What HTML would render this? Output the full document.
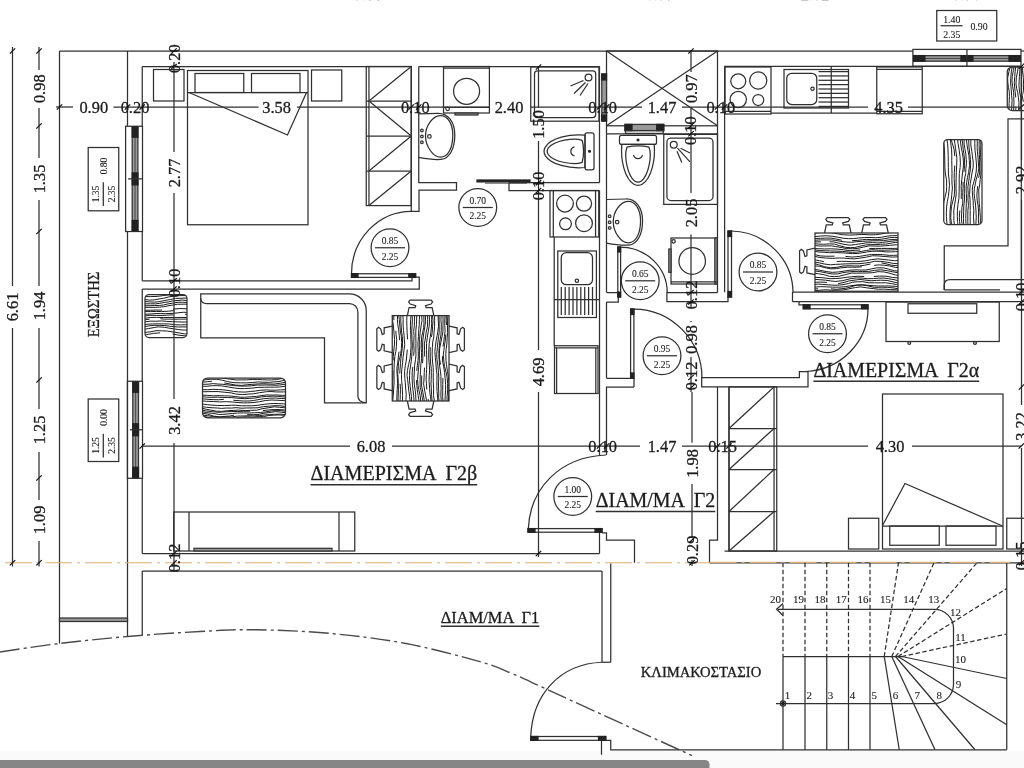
<!DOCTYPE html>
<html lang="el"><head><meta charset="utf-8"><title>Κάτοψη Γ ορόφου</title>
<style>
html,body{margin:0;padding:0;background:#fff;}
body{width:1024px;height:768px;overflow:hidden;font-family:"Liberation Serif","DejaVu Serif",serif;}
svg{display:block;will-change:transform;}
svg line,svg path,svg rect,svg circle,svg polyline{fill:none;stroke:#303030;stroke-width:1.25;}
svg text{font-family:"Liberation Serif","DejaVu Serif",serif;fill:#1c1c1c;stroke:#1c1c1c;stroke-width:.3;}
svg text.sm{stroke-width:.1;}
svg .tk{stroke-width:1.2;stroke:#111;}
svg .dk{fill:#222;stroke:#222;}
svg .gr{fill:#9a9a9a;stroke:#333;}
svg .thin{stroke-width:.8;}
svg .wd{stroke-width:1.0;stroke:#1a1a1a;}
svg .wh{fill:#fff;}
svg .da{stroke-dasharray:4.5 2.5;}
svg .dd{stroke:#4a4a4a;stroke-dasharray:20 4 3 4;stroke-width:1.4;}
svg .or{stroke:#dcae70;stroke-dasharray:27 5 3 5;stroke-width:1.1;}
svg .bar{fill:#868686;stroke:none;}
svg .nf{fill:#fafafa;stroke:none;}
</style></head><body>
<svg width="1024" height="768" viewBox="0 0 1024 768">
<rect x="0" y="751" width="1024" height="17" class="nf"/>
<path d="M0 760 H705 a4.5 4.5 0 0 1 4.5 4.5 V768 H0 Z" class="bar"/>
<line x1="59.5" y1="51" x2="913" y2="51"/>
<line x1="59.5" y1="51" x2="59.5" y2="643.5"/>
<line x1="127.5" y1="51" x2="127.5" y2="126.25"/>
<line x1="127.5" y1="231.5" x2="127.5" y2="636.5"/>
<line x1="142.25" y1="66.5" x2="142.25" y2="126.25"/>
<line x1="142.25" y1="231.5" x2="142.25" y2="280.75"/>
<line x1="142.25" y1="289" x2="142.25" y2="381.25"/>
<line x1="142.25" y1="478.5" x2="142.25" y2="553.5"/>
<line x1="142.25" y1="571" x2="142.25" y2="635"/>
<rect x="59.5" y="618" width="68" height="3.5" class="gr"/>
<line x1="142.25" y1="66.5" x2="411.25" y2="66.5"/>
<line x1="418.75" y1="66.5" x2="599.5" y2="66.5"/>
<line x1="724.5" y1="66.25" x2="1021" y2="66.25"/>
<path d="M411.25 66.5 L411.25 211.25 L419 211.25 L419 190 L456.5 190 L456.5 182.5 L418.75 182.5 L418.75 66.5"/>
<path d="M142.25 280.75 L412 280.75 L412 277 L419.25 277 L419.25 289 L142.25 289"/>
<path d="M530 182.7 L599.5 182.7"/>
<path d="M509 182.7 L509 190.5 L599.5 190.5"/>
<line x1="509" y1="182.7" x2="530" y2="182.7"/>
<line x1="599.5" y1="66.5" x2="599.5" y2="182.7"/>
<rect x="477" y="180" width="53" height="1.9" class="dk"/>
<line x1="485" y1="183.2" x2="527" y2="183.2" class="thin"/>
<rect x="606.5" y="51" width="111" height="74.8"/>
<line x1="606.5" y1="51" x2="717.5" y2="125.8"/>
<line x1="717.5" y1="51" x2="606.5" y2="125.8"/>
<line x1="724.6" y1="66.25" x2="724.6" y2="292.3"/>
<line x1="717.5" y1="125.8" x2="717.5" y2="292.5"/>
<line x1="606.5" y1="125.8" x2="606.5" y2="292.5"/>
<line x1="599.5" y1="190.5" x2="599.5" y2="455"/>
<line x1="606.5" y1="133.75" x2="717.5" y2="133.75"/>
<path d="M606.5 292.5 L618.3 292.5 L618.3 302 L606.5 302"/>
<path d="M717.5 292.65 L666.9 292.65 L666.9 301.5 L728 301.5 L728 297"/>
<line x1="606.5" y1="302" x2="606.5" y2="378.25"/>
<path d="M606.5 378.25 L634 378.25 L634 387"/>
<path d="M606.5 455 L606.5 387 L634 387"/>
<path d="M717.5 386.9 L717.5 540 L709.5 540 L709.5 562.75"/>
<path d="M701.7 377.5 L799.4 377.5 L799.4 371.5 L808 371.5 L808 386.9 L701.7 386.9 Z"/>
<path d="M799 301.7 L1024 301.7"/>
<path d="M793 292 L1024 292"/>
<path d="M792.5 301.7 L799 301.7 L799 304.8 L803.3 304.8"/>
<line x1="792.5" y1="292" x2="792.5" y2="301.7"/>
<line x1="1021.3" y1="66.25" x2="1021.3" y2="292"/>
<line x1="724.5" y1="551" x2="1024" y2="551"/>
<line x1="709.5" y1="562.75" x2="1024" y2="562.75"/>
<line x1="729" y1="387" x2="729" y2="551"/>
<line x1="142.25" y1="553.5" x2="599.5" y2="553.5"/>
<line x1="599.5" y1="532.5" x2="599.5" y2="553.5"/>
<line x1="142.25" y1="571" x2="602" y2="571"/>
<path d="M602 532.75 L606.5 532.75 L606.5 540 L634.5 540 L634.5 562.75"/>
<line x1="602" y1="571" x2="602" y2="662.25"/>
<line x1="610.75" y1="563.5" x2="610.75" y2="662.25"/>
<line x1="602" y1="662.25" x2="610.75" y2="662.25"/>
<path d="M605.75 740.25 L610.75 740.25 L610.75 749.75 L1006.75 749.75"/>
<line x1="601.5" y1="740" x2="601.5" y2="754.75"/>
<line x1="1006.75" y1="562.75" x2="1006.75" y2="749.75"/>
<line x1="5" y1="562.75" x2="709.5" y2="562.75" class="or"/>
<line x1="709.5" y1="562.4" x2="1010" y2="562.4" class="or"/>
<path d="M0 652 C14.9 649.7 38.2 646.1 59.5 643.5 C80.8 640.9 104.1 638.5 127.5 636.5 C150.9 634.5 178.6 632.6 200 631.5 C221.4 630.4 234.2 629.4 256 629.75 C277.8 630.1 306.0 631.2 331 633.5 C356.0 635.8 381.0 638.8 406 643.5 C431.0 648.2 463.3 657.0 481 662 C498.7 667.0 501.3 669.1 512 673.5 C522.7 677.9 530.3 681.8 545 688.5 C559.7 695.2 575.5 702.4 600 713.6 C624.5 724.8 667.0 744.2 692 755.6" class="dd"/>
<rect x="153.5" y="69.5" width="30.5" height="31.5"/>
<rect x="311.5" y="70" width="30.25" height="31"/>
<rect x="187.5" y="70.5" width="120.5" height="154.25"/>
<line x1="187.5" y1="92.5" x2="308" y2="92.5"/>
<rect x="195" y="73.5" width="48.75" height="19"/>
<rect x="251.5" y="73.5" width="48.5" height="19"/>
<path d="M189 92.5 L287.5 135 L306.5 92.5"/>
<rect x="366.25" y="66.5" width="45" height="139.1"/>
<line x1="368.95" y1="66.5" x2="368.95" y2="205.6"/>
<line x1="411.25" y1="66.5" x2="368.95" y2="101"/>
<line x1="366.25" y1="101" x2="411.25" y2="101"/>
<line x1="368.95" y1="101" x2="411.25" y2="136"/>
<line x1="366.25" y1="136" x2="411.25" y2="136"/>
<line x1="411.25" y1="136" x2="368.95" y2="171"/>
<line x1="366.25" y1="171" x2="411.25" y2="171"/>
<line x1="411.25" y1="171" x2="368.95" y2="205.6"/>
<rect x="125.6" y="126.25" width="16.9" height="105.25"/>
<rect x="132.2" y="127.05" width="5.7" height="103.65" class="gr"/>
<line x1="135.05" y1="127.25" x2="135.05" y2="230.5" class="thin"/>
<rect x="132.2" y="127.05" width="5.7" height="10.2" class="dk"/>
<rect x="132.2" y="172.88" width="5.7" height="12" class="dk"/>
<rect x="132.2" y="220.5" width="5.7" height="10.2" class="dk"/>
<line x1="128.1" y1="178.88" x2="142.5" y2="178.88"/>
<rect x="127.4" y="381.25" width="15.1" height="97.05"/>
<rect x="132.8" y="382.05" width="5.7" height="95.45" class="gr"/>
<line x1="135.65" y1="382.25" x2="135.65" y2="477.3" class="thin"/>
<rect x="132.8" y="382.05" width="5.7" height="10.2" class="dk"/>
<rect x="132.8" y="423.77" width="5.7" height="12" class="dk"/>
<rect x="132.8" y="467.3" width="5.7" height="10.2" class="dk"/>
<line x1="129.9" y1="429.77" x2="142.5" y2="429.77"/>
<path d="M411.25 211.25 A60 62.5 0 0 0 351.5 273.75"/>
<rect x="351.5" y="273.75" width="64.1" height="3.65"/>
<rect x="351.5" y="273.75" width="6.5" height="3.65" class="dk"/>
<rect x="408.8" y="273.75" width="6.8" height="3.65" class="dk"/>
<circle cx="390" cy="247.75" r="18.9"/>
<line x1="375" y1="247.75" x2="405" y2="247.75"/>
<text x="390" y="243.75" font-size="9.5" text-anchor="middle" class="sm">0.85</text>
<text x="390" y="259.65" font-size="9.5" text-anchor="middle" class="sm">2.25</text>
<circle cx="477.75" cy="207.5" r="18.9"/>
<line x1="462.75" y1="207.5" x2="492.75" y2="207.5"/>
<text x="477.75" y="203.5" font-size="9.5" text-anchor="middle" class="sm">0.70</text>
<text x="477.75" y="219.4" font-size="9.5" text-anchor="middle" class="sm">2.25</text>
<clipPath id="w1"><rect x="145" y="294.5" width="42" height="43" rx="4"/></clipPath>
<g clip-path="url(#w1)">
<path d="M144 296.61 L150.73 296.6 L154.99 296.5 L159.71 296.08 L163.89 295.52 L170.73 294.64 L176.48 293.88 L182.23 293.81 L186.9 294.26 L191.3 294.49" class="wd"/>
<path d="M144 299.53 L149.74 300.09 L154.86 299.8 L159.05 298.96 L163.67 298.29 L168.95 296.87 L174.71 295.86 L179.61 295.61 L185.7 295.55 L191.43 296.41" class="wd"/>
<path d="M144 301.53 L149.54 301.86 L154.56 302.13 L159.83 301.58 L164.06 300.63 L170.43 299.47 L175.45 298.42 L180.94 298.25 L185.14 298.02 L189.95 298.83" class="wd"/>
<path d="M144 303.89 L150.47 303.8 L155.62 303.87 L159.69 303.36 L164.19 302.47 L168.37 301.97 L172.76 300.87 L177.93 300.47 L182.17 300.06 L187.82 300.6" class="wd"/>
<path d="M144 305.79 L150.05 305.69 L154.74 305.51 L159.19 305.49 L163.23 305.05 L167.78 303.96 L172.21 303.23 L178.04 302.25 L182.42 302.27 L189.27 302.61" class="wd"/>
<path d="M144 307.4 L149.2 307.36 L155.1 307.34 L159.3 307.18 L163.79 306.73 L167.95 305.87 L172.4 305.1 L177.49 304.25 L184.11 304.16 L188.56 304.28" class="wd"/>
<path d="M144 310.28 L150.93 310.22 L155.87 310.04 L162.12 310.17" class="wd"/>
<path d="M173.1 309.06 L179.96 308.59 L186.03 308.76 L192.3 308.86" class="wd"/>
<path d="M144 311.56 L150.32 311.58 L156.65 311.45 L161.32 311.6 L168.28 311.2 L174.7 310.55" class="wd"/>
<path d="M186.47 309.72 L190.55 309.8" class="wd"/>
<path d="M144 314.32 L150.96 313.97 L156.06 313.56 L160.74 313.54 L165.35 313.66 L172.05 313.38 L177.49 312.85 L183.89 312.21 L189.87 312.75" class="wd"/>
<path d="M144 316.08 L149.91 315.29 L156.75 315.43 L162.14 315.49 L166.39 315.19 L173.37 314.82" class="wd"/>
<path d="M185.11 314.36 L190.9 314.49" class="wd"/>
<path d="M144 318.3 L150.18 317.51 L156.43 317.39 L163.39 317.5 L170.01 317.47 L174.65 317.65 L180.94 317.4 L186.57 317.56 L190.75 317.58" class="wd"/>
<path d="M144 319.99 L149.5 319.13" class="wd"/>
<path d="M160.4 318.69 L164.41 319.13 L168.92 319.12 L175.1 319.22 L180.08 319.11 L185.74 319.12 L190.06 319.05" class="wd"/>
<path d="M144 322.04 L150.68 321.11 L155.66 321.25 L161.48 320.93 L166.31 321.35 L172.73 321.71 L177.47 321.86 L184.1 322.05 L190.87 322.05" class="wd"/>
<path d="M144 324.79 L148.22 324.13 L152.44 323.93 L158.79 323.84 L163.25 323.87 L169.23 323.96 L175.88 324.77 L180.54 324.92 L185.73 324.74 L192.7 324.95" class="wd"/>
<path d="M144 326.87 L149.07 325.83 L154.17 325.35 L159.54 325.36 L164.7 325.51 L169.58 326.2 L173.92 326.63 L178.61 327 L182.86 326.91 L189.58 326.95" class="wd"/>
<path d="M144 329.3 L148.45 328.6 L154.16 327.49 L158.43 326.85 L164.49 327.28 L168.71 328.09 L174.61 328.99 L178.86 329.64 L183.06 330.06 L188.43 330.03" class="wd"/>
<path d="M144 332.57 L150.13 331.84 L157.04 330.58 L161.58 330.8 L167.47 331.07 L172.08 331.75 L178.1 332.72 L184.51 333.9 L188.62 333.65" class="wd"/>
<path d="M144 335.12 L148.32 334.35 L153.62 333.38 L160.12 332.82" class="wd"/>
<path d="M172.59 333.93 L179.08 335.23 L184.99 335.85 L190.03 335.96" class="wd"/>
</g>
<rect x="145" y="294.5" width="42" height="43" rx="4"/>
<clipPath id="w2"><rect x="202.5" y="378" width="83" height="39.75" rx="5"/></clipPath>
<g clip-path="url(#w2)">
<path d="M201.5 377.56 L206.23 376.81 L211.6 376.3 L216.94 376.63 L223.83 378.25 L229.47 379.1 L236.37 380.01 L241.44 379.89 L246.58 379.86 L252.09 379.47 L257.6 379.43 L262.4 379.73 L267.59 379.91 L271.66 379.95 L276.36 379.56 L281.95 378.53 L287.92 377.26" class="wd"/>
<path d="M201.5 380.26 L206.35 379.61 L210.79 379.28 L216.93 379.26 L222.22 380.22 L227.74 381.61 L233.99 382.68 L240.43 382.82 L246.49 382.89 L252.63 382.46 L258.56 381.85 L262.68 382.22 L269.56 382.28 L274.91 381.85 L278.97 381.52 L283.7 380.44 L289.07 379.27" class="wd"/>
<path d="M201.5 382.27 L207.71 381.63 L211.93 381.31" class="wd"/>
<path d="M224.34 382.94 L229.82 383.92 L235.26 385.06 L241.56 385.38 L247.49 384.71 L251.93 384.33 L258.16 383.9 L263.86 383.72 L268.05 383.94 L274.06 384.08 L280.09 383.25 L285.64 382.34 L291.04 381.25" class="wd"/>
<path d="M201.5 384.33 L207.96 384.18 L213.31 383.62 L217.94 384.05 L222.57 384.27 L226.99 384.83 L233.85 385.55 L240.31 386.14 L246.97 386.04 L251.67 385.79 L257.13 385 L261.14 385.11 L266.49 385.02 L270.91 385.08 L275.86 385.24 L279.87 384.96 L286.38 384" class="wd"/>
<path d="M201.5 386.28 L206.68 386.3 L212.45 385.67 L217.73 385.65 L221.88 385.92 L228.38 387.03 L235.19 388.13 L239.98 388.67 L244.55 388.57 L251.42 388.2 L257.86 387.4 L264.6 387.25 L270.25 387.16 L274.39 387.18 L279.75 386.97 L285.68 386.15 L289.83 385.97" class="wd"/>
<path d="M201.5 389.62 L207.72 389.72 L212.93 389.32 L218.38 389.52 L222.74 389.79 L226.97 390.27 L233.4 391.34 L238.76 391.91 L245.04 392.09 L250.68 391.49 L255.21 391.03 L260.17 390.32 L266.59 389.85 L270.65 390.17 L275.8 390.17 L280.43 389.88 L286.69 389.61" class="wd"/>
<path d="M201.5 391.79 L208.09 391.67 L212.9 391.55 L218.1 391.59 L224.96 392.28 L231.58 392.95 L235.68 394.02 L242.37 394.58 L248.13 394.11 L253.3 393.82 L259.78 392.66 L266.69 391.66 L271.02 391.55 L276.59 391.94 L283.41 391.94 L289.36 391.58" class="wd"/>
<path d="M201.5 395.1 L207.21 395.34 L213.35 395.84 L219.23 395.58 L224.54 395.83 L228.84 395.9 L235.67 396.54 L240.46 397.24 L244.46 397.24 L251.45 396.74 L256.4 396.42 L261.13 395.65 L266.77 394.91 L272 395.1 L276.17 394.96 L282.82 395.38 L287.07 395.19" class="wd"/>
<path d="M201.5 396.63 L206.76 397.16 L211.36 397.35 L217.57 397.18 L222.19 397.42 L227.12 397.54 L231.82 397.61 L238.1 398.26 L244.95 398.7 L249.52 398.39 L254.77 398.05 L261.61 396.85 L266.79 396.37 L273.72 396.19 L277.87 396.28 L283.05 396.91 L289.7 396.9" class="wd"/>
<path d="M201.5 398.76 L207.07 399.23 L212.01 399.61 L218.53 399.75 L223.85 399.3" class="wd"/>
<path d="M233.35 400.24 L239.03 400.73 L244.17 401.04 L249.1 400.97 L253.36 400.49 L257.95 399.7 L263.29 398.74 L269.5 398.19 L275.4 398.05 L281.27 398.46 L286.4 398.78" class="wd"/>
<path d="M201.5 400.86 L206.59 401.29 L213.45 401.56 L219.69 401.9 L226.46 401.66 L232.63 402.04 L239.04 402.67 L243.24 402.85 L247.56 402.85 L252.96 402.54 L259.33 401.76 L265.77 400.48 L271.26 400.01 L278.06 400.27 L284.13 400.61 L288.84 401.25" class="wd"/>
<path d="M201.5 403.93 L207.76 404.78 L211.95 405.08 L217.61 405.44 L224.55 405.6 L231.51 405.21 L235.77 405.24 L241.26 405.82 L246.6 405.76 L251.85 405.82 L257.88 405.25 L264.42 404.26 L268.78 403.83 L273.66 403.43 L278.78 403.67 L283.38 403.81 L288.11 404.21" class="wd"/>
<path d="M201.5 406.44 L206.24 407.25 L212.19 407.76 L217.58 408.02 L221.59 408.42 L226.29 408.04 L231.41 408.09 L236.11 407.66 L241.91 408.22 L246.49 407.97 L252.03 407.95 L257.84 407.76 L263.83 406.56 L269.74 406.21 L274.79 405.63 L279.81 405.81 L286.81 406.51" class="wd"/>
<path d="M201.5 408.03 L206.62 409.39 L210.85 410.09 L216.34 411.14 L221.56 411.4 L227.55 410.65 L233.15 410.45 L238.35 410.14 L245.31 410.57 L250.57 410.32 L256.8 410.19 L262.04 408.74 L268.34 407.75 L274.28 406.82 L279.49 407.27 L284.8 407.74 L289.14 408.62" class="wd"/>
<path d="M201.5 409.85 L205.93 410.89 L211.12 411.56 L217.9 412.25 L222.41 412.07 L226.9 411.76 L231.1 411.58 L237.36 411.51 L243.78 411.28 L250.29 411.23" class="wd"/>
<path d="M262.85 410.6 L267.11 410.07 L273.17 409.58 L279.09 409.56 L284.96 410 L289.55 410.56" class="wd"/>
<path d="M201.5 411.39 L206.24 412.53 L212.93 413.42 L218.62 414.35 L222.73 414.41 L227.09 414 L232.74 413.48 L237.66 413.02 L243.4 412.92 L249.38 413.02 L254.7 412.72 L260.55 412.44 L265.26 411.91 L271.6 410.89 L276.14 410.63 L280.46 410.62 L285.75 411.29 L291.08 412.44" class="wd"/>
<path d="M201.5 412.82 L207.66 414.18 L213.92 416.16 L219.88 416.87 L223.95 416.45 L229.8 416.05 L234.12 415.1" class="wd"/>
<path d="M247.21 414.68 L253.27 414.69 L257.94 414.48 L263.77 413.35 L268.74 412.59 L275.45 411.64 L280.22 412 L285.66 412.72" class="wd"/>
<path d="M201.5 414.9 L207.41 415.67 L212.39 416.53 L218.77 417.17 L225.07 417.05 L231.65 416.91 L237.01 416.14 L243.07 415.98 L247.83 415.76 L254.4 415.89 L259.51 415.54 L264.62 415 L269.61 414.43 L274.3 414.3 L281.18 414.17 L286.73 414.8" class="wd"/>
<path d="M201.5 416.16 L207.74 417.2 L212.61 418.63 L217.87 419.51 L222.01 419.86 L227.85 419.2 L232.01 418.75 L236.92 417.82 L242.52 417.07 L247.43 416.75 L252.53 417.16 L257 416.74 L263.41 416.6 L268.76 415.5 L273.19 415.18 L278 414.95 L284.9 415.24 L291.37 417.22" class="wd"/>
</g>
<rect x="202.5" y="378" width="83" height="39.75" rx="5"/>
<path d="M200.76 293.9 H349.5 A16.7 16.7 0 0 1 366.25 310.6 V402.8 H324.5 V337.9 H200.76 Z"/>
<path d="M200.76 298.5 Q201 303.55 206.7 303.55 H349.5 A8.4 8.4 0 0 1 357.9 311.95 V396 Q358 402 365.5 402.6"/>
<path d="M-13.25 0 L-11.5 -8.1 L-5.5 -8.1 L-4.9 -10 L-10.5 -11.6 L-12 -13.7 L-10.5 -15.4 L10.5 -15.4 L12 -13.7 L10.5 -11.6 L4.9 -10 L5.5 -8.1 L11.5 -8.1 L13.25 0" transform="translate(392.25 339.3) rotate(-90)"/>
<path d="M-13.25 0 L-11.5 -8.1 L-5.5 -8.1 L-4.9 -10 L-10.5 -11.6 L-12 -13.7 L-10.5 -15.4 L10.5 -15.4 L12 -13.7 L10.5 -11.6 L4.9 -10 L5.5 -8.1 L11.5 -8.1 L13.25 0" transform="translate(449 339.3) rotate(90)"/>
<path d="M-13.25 0 L-11.5 -8.1 L-5.5 -8.1 L-4.9 -10 L-10.5 -11.6 L-12 -13.7 L-10.5 -15.4 L10.5 -15.4 L12 -13.7 L10.5 -11.6 L4.9 -10 L5.5 -8.1 L11.5 -8.1 L13.25 0" transform="translate(392.25 377.4) rotate(-90)"/>
<path d="M-13.25 0 L-11.5 -8.1 L-5.5 -8.1 L-4.9 -10 L-10.5 -11.6 L-12 -13.7 L-10.5 -15.4 L10.5 -15.4 L12 -13.7 L10.5 -11.6 L4.9 -10 L5.5 -8.1 L11.5 -8.1 L13.25 0" transform="translate(449 377.4) rotate(90)"/>
<path d="M-13.25 0 L-11.5 -8.1 L-5.5 -8.1 L-4.9 -10 L-10.5 -11.6 L-12 -13.7 L-10.5 -15.4 L10.5 -15.4 L12 -13.7 L10.5 -11.6 L4.9 -10 L5.5 -8.1 L11.5 -8.1 L13.25 0" transform="translate(420.6 315.6) rotate(0)"/>
<path d="M-13.25 0 L-11.5 -8.1 L-5.5 -8.1 L-4.9 -10 L-10.5 -11.6 L-12 -13.7 L-10.5 -15.4 L10.5 -15.4 L12 -13.7 L10.5 -11.6 L4.9 -10 L5.5 -8.1 L11.5 -8.1 L13.25 0" transform="translate(420.6 401) rotate(180)"/>
<clipPath id="w3"><rect x="392.25" y="315.6" width="56.75" height="85.4" rx="0"/></clipPath>
<g clip-path="url(#w3)">
<path d="M392.26 314.6 L392.46 319.82 L393.2 323.99 L393.6 328.03 L394.12 334.85 L394.56 339.45 L394.45 344.97 L393.68 351.41 L393.26 356.34 L393.23 360.49" class="wd"/>
<path d="M392.96 370.85 L392.81 377.09 L392.7 383.31 L392.29 387.99 L391.94 392.69 L392.01 397.7 L391.99 403.78" class="wd"/>
<path d="M393.69 314.6 L393.88 320.17" class="wd"/>
<path d="M395.85 330.75 L396.1 334.79 L396.67 339.5 L396.43 346.33 L395.88 351.32 L394.83 356.3 L394.26 363.02 L394.04 369.1 L394.01 376.04 L394.12 382.56 L393.67 389.13 L393.25 395.3 L392.8 400.23 L392.82 406.1" class="wd"/>
<path d="M397.64 314.6 L397.42 319.63 L397.68 323.72 L398.64 329.8 L399.32 335.89 L399.48 340.09" class="wd"/>
<path d="M399.03 351.64 L398.48 355.83 L397.74 362.58 L397.06 366.9 L396.87 371.23 L397.36 377.78 L397.51 383.68 L397.21 389.57 L396.98 393.87 L396.8 400.15 L396.88 405.1" class="wd"/>
<path d="M398.8 314.6 L399.28 319.56 L399.8 325.07 L400.32 330.93 L401.31 336.17 L401.69 342.49 L401.36 348.6 L400.74 353.25 L399.83 357.52 L398.56 362.03 L398.32 366.64 L397.7 373.57 L398.17 379.05 L398.32 385.44 L398.43 390.92 L398.12 397.42 L397.93 404.25" class="wd"/>
<path d="M400.88 314.6 L400.77 320.9 L401.31 327.87 L401.64 332.19 L402.35 336.47 L402.54 343.15 L402.27 348.41 L401.52 353.53 L400.88 358.81 L400.51 363.33 L400.02 369.22 L399.77 373.6" class="wd"/>
<path d="M400.15 383.77 L400.46 389.34 L400.29 394.69 L400.13 399.66 L399.96 405.72" class="wd"/>
<path d="M402.85 314.6 L403.11 319.5 L403.1 326.04 L403.51 330.5 L404.11 335.48 L404.34 339.97 L404.75 344.53 L403.93 350.72 L402.97 357.61 L402.61 362.76 L401.82 369.14 L401.43 374.45 L401.62 380.36 L402.07 384.98 L402.3 389.08 L402.58 395.46 L402.48 400.96 L402.19 406.35" class="wd"/>
<path d="M406.95 314.6 L406.74 320.7 L406.92 326.65 L407.13 332.65 L407.56 339.28" class="wd"/>
<path d="M407.31 349.58 L406.82 354.87 L406.2 360.98 L405.25 365.7 L404.59 371.84 L404.79 378.39 L405.26 382.45 L405.66 388 L406.23 394.62 L405.91 399.61 L406.33 406.1" class="wd"/>
<path d="M411.08 314.6 L410.66 319.2 L410.46 325.74 L410.45 330.36 L410.75 334.4 L410.83 339.51 L411.12 345.74 L410.59 352.71 L410.07 358.25 L408.62 364.44 L407.45 370.35 L407.03 375.5 L407.63 379.72 L408.25 385.61 L408.88 391.35 L409.62 396.26 L410.25 403.12" class="wd"/>
<path d="M412.16 314.6 L412.36 320.93 L411.96 326.83 L411.76 332.52 L411.98 339.41 L412.37 345.33 L412.06 351.78 L411.67 356.66 L411.24 361.03 L410.54 366.1 L409.76 370.9 L409.56 375.66 L409.47 380.22 L410.19 386.38 L410.78 391.12 L411.41 396.56 L411.83 402.47" class="wd"/>
<path d="M414.64 314.6 L414.49 321.32 L414.3 325.74 L413.67 331.64 L414.09 335.67 L413.81 341.64 L413.82 345.94 L414.11 350.65 L413.55 355.69" class="wd"/>
<path d="M412.73 366.9 L412.16 372.73 L412.12 378.73 L412.51 385.1 L412.95 389.69 L413.6 395.28 L414.08 400.6 L413.91 406.26" class="wd"/>
<path d="M416.7 314.6 L416.69 319.03 L416.45 324.53 L415.79 331.12 L415.83 337.64 L415.94 343.33 L415.83 349.85 L415.98 355.1 L415.53 359.33 L414.63 365.24 L414.39 371.07 L413.93 377.86 L414.37 384.81 L415.19 390.26 L415.61 394.36 L416 400.24 L416.26 406.82" class="wd"/>
<path d="M419.55 314.6 L419.42 319.35 L419.28 324.22 L418.75 329.7 L418.5 336.66 L418.02 341.69 L417.98 347.17 L418.29 351.74 L418.31 356.13 L418.05 360.39 L417.31 365.59 L416.75 370.8" class="wd"/>
<path d="M416.47 380.14 L416.84 385.56 L417.28 389.74 L418.12 395.38 L418.87 399.82 L419.42 405.88" class="wd"/>
<path d="M421.64 314.6 L422.01 320.59 L421.12 325.86 L420.17 332.65 L419.6 339.26 L419.72 344.19 L419.49 350.78 L419.39 354.88 L419.38 360.58 L418.6 367.32 L418.1 372.89 L417.56 379.21 L417.97 385.3 L418.78 389.5 L420.12 395.28 L420.77 401.26" class="wd"/>
<path d="M423.83 314.6 L423.89 319.06 L424 323.07 L423.6 327.43 L422.88 331.7 L421.81 336.09 L421.37 342.24 L421.23 348.44 L421.57 352.6 L421.58 358.74 L420.82 364.92 L420.53 370.81 L420.17 376.19 L420.09 380.95 L420.15 387.11 L421.18 391.15 L422.24 397.6 L423.42 402.54" class="wd"/>
<path d="M425.3 314.6 L425.63 321.45 L424.8 326.86 L423.66 333.75 L422.78 340.62 L422.63 347.02 L422.68 353.36 L422.88 358.17 L422.52 363.17" class="wd"/>
<path d="M421.72 375.45 L421.64 382.05 L421.65 386.1 L422.91 392.6 L424.15 399.53 L424.99 404.69" class="wd"/>
<path d="M427.46 314.6 L427.65 319.4 L427.47 326.17 L426.14 332.52 L425.62 336.94 L424.37 343.92 L424.54 350.84 L424.69 356.49" class="wd"/>
<path d="M424.47 367.61 L424.28 372.75 L424.02 378.92 L423.61 383.85 L424.45 389.03 L425.67 395.81 L426.41 399.84 L427.4 405.46" class="wd"/>
<path d="M429.23 314.6 L429.55 321.1 L429.09 326.62 L428.32 331.26 L427.27 337.67 L426.53 343.41 L426.48 349.75 L426.61 354.49 L426.82 359.97 L426.74 365.08 L426.61 369.33 L426.43 373.42 L426.09 379.24 L426.48 383.85 L426.76 389.55" class="wd"/>
<path d="M428.08 399.03 L429.2 404.37" class="wd"/>
<path d="M431.75 314.6 L431.57 319.73 L431.69 323.84 L431.15 329.96 L430.29 336.49 L429.2 343.08 L428.81 349.85 L428.67 354.12 L428.79 358.82 L429.35 365.58 L429.6 370.13 L429.23 375.24 L429.06 381.4 L429.6 388.23 L429.78 392.41 L430.49 396.49 L431 401.26" class="wd"/>
<path d="M432.4 314.6 L433.07 320.86 L432.55 326.9 L432.19 332.67 L431.4 336.99" class="wd"/>
<path d="M430.28 347.2 L430.16 351.92 L430.29 357.95 L430.71 364.1 L431.24 368.21 L431.31 372.87 L431.23 379.47 L430.97 383.89 L431.3 388.18 L431.58 394.71 L432.01 400.07 L432.73 406.53" class="wd"/>
<path d="M434.67 314.6 L434.64 320.26 L434.59 326.87 L434.06 332.11 L433.77 336.92 L432.78 341.92 L432.35 347.4 L432.14 354.11 L432.46 361.04 L433.21 367.73 L433.29 372.36 L433.23 377.22 L433.25 381.83 L433.61 388.8 L433.53 395.57 L434.38 400.44 L434.71 404.61" class="wd"/>
<path d="M437.99 314.6 L438.26 320.13 L438.5 326.5 L437.79 331.36 L437.2 335.48 L436.21 340.31 L435.37 346.84 L434.85 351.53 L435.3 357.34 L435.95 364 L436.41 370.29 L437 374.7 L436.91 380.58 L436.8 385.51 L437.09 391.58 L437.66 398.11 L437.95 403.66" class="wd"/>
<path d="M439.05 314.6 L439.14 320.89 L439.18 326.89 L439.19 332.57 L438.58 336.68 L437.9 342.41 L437.38 347.48 L436.68 354.38 L436.98 359.45 L437.92 365.94 L438.49 372.28 L438.81 378.01 L438.47 382.89 L438.59 389.08 L438.8 393.16 L438.66 397.56 L439.1 401.82 L439.28 406.33" class="wd"/>
<path d="M441.17 314.6 L440.94 319.19 L441.31 324.98 L441.21 330.55 L440.95 334.86 L439.8 341.01 L439.49 345.38 L438.92 350.88 L438.9 355.25 L439.19 359.66 L439.62 366.24 L440.55 371.96 L440.95 376.46 L440.93 383.27 L441.11 388.53 L440.84 394.11 L441.19 400.93 L441.2 405.95" class="wd"/>
<path d="M442.95 314.6 L443.1 321.05 L443.01 325.21 L442.89 332.08 L441.97 336.83 L440.8 342.73 L439.66 348.32 L439.4 353.62 L439.3 357.68 L440.56 364.59" class="wd"/>
<path d="M442.9 377.83 L442.77 384.48 L442.75 390.41 L442.63 396.44 L443.12 402.07" class="wd"/>
<path d="M445.15 314.6 L444.8 319.46 L444.78 325.41 L445.11 331.19 L444.35 336.73 L443.79 342.13 L442.96 346.57" class="wd"/>
<path d="M442.36 356.19 L442.53 360.92 L443.68 366.56 L444.53 372.39 L445.15 378.34 L445.6 384.47 L445.58 390.11 L445.2 395.52 L445.05 400.25 L445.22 405.78" class="wd"/>
<path d="M446.28 314.6 L446.25 320.27 L446.55 325.12" class="wd"/>
<path d="M445.85 334.49 L445.2 341.1 L444.47 345.29 L443.85 350.61 L443.27 354.93 L443.91 361.81 L444.5 366.28 L445.82 371.33 L447.11 377.18 L447.62 383.65 L447.66 389.86 L447.11 396.14 L446.95 402.5" class="wd"/>
<path d="M447.92 314.6 L447.64 318.95 L447.5 325.93 L447.54 332.48 L447.16 338.35 L446.77 344.9 L446.07 349.76 L445.81 354.82 L445.99 360.61 L446.47 364.63 L447.45 371.6 L448.35 376.5 L448.97 382.91 L448.95 388.04 L448.67 394.5 L448.4 401.41 L448.14 406.14" class="wd"/>
</g>
<rect x="392.25" y="315.6" width="56.75" height="85.4"/>
<rect x="173.75" y="512" width="181" height="39"/>
<line x1="189" y1="512" x2="189" y2="551"/>
<line x1="339" y1="512" x2="339" y2="551"/>
<rect x="194" y="548.3" width="138" height="2.7" class="gr"/>
<rect x="443.5" y="66.5" width="45.9" height="46.5"/>
<line x1="443.5" y1="68.2" x2="489.4" y2="68.2"/>
<line x1="443.5" y1="107.25" x2="489.4" y2="107.25"/>
<circle cx="466.6" cy="91.25" r="13"/>
<circle cx="447.6" cy="108.8" r="1.8"/>
<rect x="455" y="113" width="23" height="2" class="gr"/>
<g transform="translate(0 0)">
<path d="M418.75 113.8 L438 113.3 C448 113 454.8 122 454.8 135 C454.8 148 450 158.5 441 159.4 C434 160 425 158.6 418.75 157.4"/>
<path d="M440 115.6 C447.5 115.2 452.8 123.5 452.8 135 C452.8 147.5 448.5 156.5 441 157.2 C433 157.6 425.5 146 425.5 136 C425.5 126 432.5 116 440 115.6 Z"/>
<circle cx="421.9" cy="130.5" r="1.3"/>
<circle cx="421.9" cy="136.5" r="1.3"/>
<circle cx="421.9" cy="142.2" r="1.3"/>
<circle cx="429.4" cy="136.4" r="1.8"/>
</g>
<rect x="530.75" y="67" width="68.25" height="54.2"/>
<rect x="534.5" y="70.8" width="61.2" height="46.7" rx="3"/>
<circle cx="588.5" cy="77.5" r="3.4"/>
<line x1="583.5" y1="80.5" x2="570.5" y2="86"/>
<line x1="585.5" y1="82.5" x2="574" y2="93.5"/>
<line x1="588" y1="83.5" x2="580" y2="95.5"/>
<g transform="translate(569 151.3) rotate(90)">
<rect x="-18.5" y="-25" width="37" height="9" rx="2"/>
<circle cx="0" cy="-20.5" r="0.9" class="dk"/>
<path d="M-16.2 -16 H16.2 C17.6 0 13.2 18 4.5 23.6 C2 25.4 -2 25.4 -4.5 23.6 C-13.2 18 -17.6 0 -16.2 -16 Z"/>
<path d="M-11 -13.2 C-5 -15 5 -15 11 -13.2 C14.2 -5 10.8 14.5 3.5 20.6 C1.5 22 -1.5 22 -3.5 20.6 C-10.8 14.5 -14.2 -5 -11 -13.2 Z"/>
<path d="M-4.5 -5.5 A4.6 4.6 0 0 0 4.5 -5.5"/>
</g>
<g transform="translate(638 160.4) rotate(0)">
<rect x="-18.5" y="-25" width="37" height="9" rx="2"/>
<circle cx="0" cy="-20.5" r="0.9" class="dk"/>
<path d="M-16.2 -16 H16.2 C17.6 0 13.2 18 4.5 23.6 C2 25.4 -2 25.4 -4.5 23.6 C-13.2 18 -17.6 0 -16.2 -16 Z"/>
<path d="M-11 -13.2 C-5 -15 5 -15 11 -13.2 C14.2 -5 10.8 14.5 3.5 20.6 C1.5 22 -1.5 22 -3.5 20.6 C-10.8 14.5 -14.2 -5 -11 -13.2 Z"/>
<path d="M-4.5 -5.5 A4.6 4.6 0 0 0 4.5 -5.5"/>
</g>
<rect x="601.8" y="74" width="4.7" height="47" class="gr"/>
<rect x="601.8" y="74" width="4.7" height="6" class="dk"/>
<rect x="601.8" y="115" width="4.7" height="6" class="dk"/>
<rect x="625" y="124.4" width="38.75" height="6.2" class="gr"/>
<rect x="625" y="124.4" width="7" height="6.2" class="dk"/>
<rect x="656.7" y="124.4" width="7.05" height="6.2" class="dk"/>
<rect x="625.5" y="130.6" width="37.7" height="2.8"/>
<rect x="550" y="190.5" width="48.75" height="46.5"/>
<line x1="553.3" y1="190.5" x2="553.3" y2="237"/>
<line x1="595.55" y1="190.5" x2="595.55" y2="237"/>
<circle cx="565" cy="203.6" r="8.4"/>
<circle cx="584" cy="203.6" r="7.6"/>
<circle cx="565.5" cy="223.8" r="5.9"/>
<circle cx="584" cy="223.2" r="8.4"/>
<line x1="554.2" y1="237" x2="554.2" y2="345.75"/>
<rect x="557.8" y="251" width="38.6" height="66.5"/>
<rect x="561.25" y="252.7" width="31.25" height="32" rx="5"/>
<circle cx="576.9" cy="280.8" r="1.7"/>
<line x1="561.3" y1="287" x2="561.3" y2="315"/>
<line x1="565.2" y1="287" x2="565.2" y2="315"/>
<line x1="569.1" y1="287" x2="569.1" y2="315"/>
<line x1="573" y1="287" x2="573" y2="315"/>
<line x1="576.9" y1="287" x2="576.9" y2="315"/>
<line x1="580.8" y1="287" x2="580.8" y2="315"/>
<line x1="584.7" y1="287" x2="584.7" y2="315"/>
<line x1="588.6" y1="287" x2="588.6" y2="315"/>
<line x1="592.5" y1="287" x2="592.5" y2="315"/>
<line x1="554.2" y1="299.5" x2="599.5" y2="299.5"/>
<rect x="554.5" y="345.75" width="43.5" height="47.75"/>
<line x1="554.5" y1="347.8" x2="598" y2="347.8"/>
<line x1="556.6" y1="347.8" x2="556.6" y2="393.5"/>
<line x1="595.8" y1="347.8" x2="595.8" y2="393.5"/>
<rect x="663.75" y="134.4" width="53.75" height="70"/>
<rect x="666.9" y="138" width="46.1" height="62.6" rx="4"/>
<circle cx="673.75" cy="144.8" r="3.4"/>
<line x1="677.5" y1="148.2" x2="690" y2="161.8"/>
<line x1="680.6" y1="148.2" x2="690" y2="153"/>
<line x1="677" y1="151.3" x2="681.8" y2="162.5"/>
<g transform="translate(187.75 85.7)">
<path d="M418.75 113.8 L438 113.3 C448 113 454.8 122 454.8 135 C454.8 148 450 158.5 441 159.4 C434 160 425 158.6 418.75 157.4"/>
<path d="M440 115.6 C447.5 115.2 452.8 123.5 452.8 135 C452.8 147.5 448.5 156.5 441 157.2 C433 157.6 425.5 146 425.5 136 C425.5 126 432.5 116 440 115.6 Z"/>
<circle cx="421.9" cy="130.5" r="1.3"/>
<circle cx="421.9" cy="136.5" r="1.3"/>
<circle cx="421.9" cy="142.2" r="1.3"/>
<circle cx="429.4" cy="136.4" r="1.8"/>
</g>
<rect x="671" y="238" width="46.2" height="46"/>
<rect x="714.8" y="238" width="2.4" height="46" class="gr"/>
<line x1="671" y1="281.8" x2="717.2" y2="281.8"/>
<circle cx="692.2" cy="261" r="13.3"/>
<circle cx="673.6" cy="241.3" r="1.7"/>
<rect x="668.8" y="249" width="2.2" height="23.3" class="gr"/>
<path d="M620 247 A47.3 45.5 0 0 1 667.2 292.5"/>
<rect x="617.8" y="247" width="2.8" height="50"/>
<rect x="617.8" y="247" width="2.8" height="5" class="dk"/>
<rect x="617.8" y="292" width="2.8" height="5" class="dk"/>
<circle cx="640.2" cy="280.8" r="18.9"/>
<line x1="625.2" y1="280.8" x2="655.2" y2="280.8"/>
<text x="640.2" y="276.8" font-size="9.5" text-anchor="middle" class="sm">0.65</text>
<text x="640.2" y="292.7" font-size="9.5" text-anchor="middle" class="sm">2.25</text>
<path d="M633.8 309 A68.5 69.3 0 0 1 702 378.25"/>
<rect x="630.6" y="309" width="3.3" height="69.25"/>
<rect x="630.6" y="309" width="3.3" height="5.5" class="dk"/>
<rect x="630.6" y="373" width="3.3" height="5.25" class="dk"/>
<circle cx="662" cy="355.75" r="18.9"/>
<line x1="647" y1="355.75" x2="677" y2="355.75"/>
<text x="662" y="351.75" font-size="9.5" text-anchor="middle" class="sm">0.95</text>
<text x="662" y="367.65" font-size="9.5" text-anchor="middle" class="sm">2.25</text>
<path d="M606 455 C560 457 530 488 528.3 529"/>
<rect x="528" y="528.6" width="74" height="3.6"/>
<rect x="528" y="528.6" width="7" height="3.6" class="dk"/>
<rect x="595" y="528.6" width="7" height="3.6" class="dk"/>
<circle cx="572.75" cy="496.5" r="18.9"/>
<line x1="557.75" y1="496.5" x2="587.75" y2="496.5"/>
<text x="572.75" y="492.5" font-size="9.5" text-anchor="middle" class="sm">1.00</text>
<text x="572.75" y="508.4" font-size="9.5" text-anchor="middle" class="sm">2.25</text>
<path d="M602 662.25 C560 664 532.5 694 530.75 736.5"/>
<rect x="530.75" y="736.5" width="75" height="3.8"/>
<rect x="530.75" y="736.5" width="7.25" height="3.8" class="dk"/>
<rect x="598.5" y="736.5" width="7.25" height="3.8" class="dk"/>
<rect x="725" y="67" width="46" height="47"/>
<line x1="725" y1="111.4" x2="771" y2="111.4"/>
<circle cx="738.25" cy="81.25" r="7.5"/>
<circle cx="758.25" cy="80.5" r="8.6"/>
<circle cx="738.25" cy="99.5" r="8.2"/>
<circle cx="758.25" cy="100" r="5.5"/>
<line x1="771" y1="113" x2="876.75" y2="113"/>
<line x1="831.25" y1="66.25" x2="831.25" y2="113"/>
<rect x="784" y="69.5" width="64.5" height="38.5"/>
<rect x="786.75" y="73.25" width="30" height="31.25" rx="5"/>
<circle cx="812.5" cy="88.75" r="1.7"/>
<line x1="818.5" y1="71.6" x2="848.5" y2="71.6"/>
<line x1="818.5" y1="75.95" x2="848.5" y2="75.95"/>
<line x1="818.5" y1="80.3" x2="848.5" y2="80.3"/>
<line x1="818.5" y1="84.65" x2="848.5" y2="84.65"/>
<line x1="818.5" y1="89" x2="848.5" y2="89"/>
<line x1="818.5" y1="93.35" x2="848.5" y2="93.35"/>
<line x1="818.5" y1="97.7" x2="848.5" y2="97.7"/>
<line x1="818.5" y1="102.05" x2="848.5" y2="102.05"/>
<line x1="818.5" y1="106.4" x2="848.5" y2="106.4"/>
<rect x="876.75" y="67" width="45.5" height="46.75"/>
<line x1="876.75" y1="69.4" x2="922.25" y2="69.4"/>
<line x1="876.75" y1="111.25" x2="922.25" y2="111.25"/>
<rect x="912.9" y="49.4" width="108.1" height="16.85"/>
<rect x="913.7" y="55.6" width="106.5" height="5.6" class="gr"/>
<line x1="913.9" y1="58.4" x2="1020" y2="58.4" class="thin"/>
<rect x="913.7" y="55.6" width="11.2" height="5.6" class="dk"/>
<rect x="1009" y="55.6" width="11.2" height="5.6" class="dk"/>
<rect x="960.95" y="55.6" width="12" height="5.6" class="dk"/>
<line x1="966.95" y1="49.4" x2="966.95" y2="66.25"/>
<line x1="1021" y1="51" x2="1024" y2="51"/>
<clipPath id="w4"><rect x="1007.25" y="67" width="22.75" height="43.6" rx="5"/></clipPath>
<g clip-path="url(#w4)">
<path d="M1008.26 66 L1006.88 71.62 L1005.69 77.17 L1005.85 83.22 L1006.72 88.3 L1007.41 93.35 L1006.97 99.38 L1006.46 103.68 L1006.44 108.88 L1007.51 114.6" class="wd"/>
<path d="M1010.39 66 L1008.95 71.76 L1007.63 78 L1007.88 83.09 L1008.45 87.32 L1009.3 91.84 L1009.43 96.73 L1009.09 103.53 L1009.01 110.45 L1009.98 116.02" class="wd"/>
<path d="M1012.31 66 L1011.34 71.81 L1010.7 78.79 L1010.61 82.92 L1011.2 89.28 L1011.62 95.35 L1012.08 100.27 L1011.74 106.02 L1011.6 110.61 L1011.97 116.27" class="wd"/>
<path d="M1014.22 66 L1013.42 70.36 L1012.25 76.64 L1011.93 80.94 L1012.66 86.51 L1013.63 92.35 L1013.76 96.54 L1013.97 102.85 L1013.66 108.99 L1013.73 113.5" class="wd"/>
<path d="M1015.76 66 L1015.12 71.87 L1014.75 76.53 L1014.28 82.82 L1014.64 86.99 L1015.15 91.66 L1015.73 97.42" class="wd"/>
<path d="M1015.81 106.8 L1015.94 111.56" class="wd"/>
<path d="M1018.25 66 L1017.64 71.24 L1016.39 77.38 L1015.99 83.98 L1016.64 88.49 L1017.7 92.51 L1018.41 97.7 L1019.02 102.71 L1018.72 107.71 L1018.42 114.6" class="wd"/>
<path d="M1020.17 66 L1019.88 70.71 L1019.4 76.7 L1019.18 81.17 L1018.94 85.45 L1019.59 91.95 L1020.76 97.28 L1020.88 103.7 L1021.03 108.76 L1020.97 113.89" class="wd"/>
<path d="M1022.42 66 L1022.36 72.03 L1021.51 79.02 L1021.41 84.34 L1021.5 89.94 L1022.23 95.48 L1023.31 101.73" class="wd"/>
<path d="M1023.24 112.21 L1023.12 116.3" class="wd"/>
<path d="M1024.42 66 L1024.33 70.69 L1023.72 77.37 L1023.4 84.11 L1023.51 90.39 L1024.82 96.54 L1026.2 101.41 L1026.38 106.6 L1026.07 113.14" class="wd"/>
<path d="M1025.27 66 L1025.96 71.1 L1025.61 77.17 L1024.97 81.25 L1024.81 86.64 L1025.42 91.84 L1026.23 96.13 L1027.65 100.94 L1028.34 105.6 L1028.19 110.82 L1027.78 116.11" class="wd"/>
<path d="M1027.46 66 L1027.91 70.54 L1027.81 76.25 L1027.31 81.01" class="wd"/>
<path d="M1027.49 91.07 L1028.27 97.4 L1029.29 101.53 L1029.4 107.35 L1029.29 112.08" class="wd"/>
</g>
<rect x="1007.25" y="67" width="22.75" height="43.6" rx="5"/>
<clipPath id="w5"><rect x="943.75" y="139.5" width="38.25" height="85" rx="4"/></clipPath>
<g clip-path="url(#w5)">
<path d="M943.01 138.5 L943.91 144.08 L944.57 150.93 L944.67 155.95 L944.79 162.02 L944.88 167.89 L945.43 173.92 L946.55 179.94 L946.65 186.28 L946.49 190.85 L945.02 197.32 L943.82 201.85 L942.9 208.19 L943.12 212.97 L943.05 217.47 L943.56 221.75 L943.88 226.16" class="wd"/>
<path d="M946.69 138.5 L947.65 143.84 L947.94 148.89 L948.21 155.54 L948.27 161.23 L948.34 167.68 L948.43 173.96 L949.12 179.96 L949.46 185.34 L948.85 191.84 L948.3 196.71 L947.34 201.33 L946.66 206.17 L946.36 212.27 L946.39 216.61 L946.85 222.02 L947.11 226.52" class="wd"/>
<path d="M950.22 138.5 L951.07 145.44 L951.57 149.77 L951.81 155.07 L951.76 160.7 L951.89 167.46 L952.01 173.34 L951.88 179.3 L952.03 184.04 L952.4 188.12 L951.78 194.64 L951.38 199.2 L950.57 205.73 L950.05 210.24 L949.96 216.73 L950.06 221.71 L950.79 228.19" class="wd"/>
<path d="M951.25 138.5 L952.07 142.67 L954.04 149.08 L954.82 156.08" class="wd"/>
<path d="M954.79 165.5 L954.32 172.49 L954.15 178.37 L954.4 183.05 L954.69 188.96 L954.25 195.9 L952.78 201.34 L951.48 206.45 L951.01 212.29 L950.73 217.82 L951.27 222.04 L952.89 228.17" class="wd"/>
<path d="M954.11 138.5 L954.96 143.83 L955.59 148.87 L956.22 153.13 L956.89 158.51 L956.68 165.24 L956.32 172.16 L956.11 178.02 L956.1 182.2 L956.02 188.03 L956.22 193.74 L955.55 199.18 L954.72 204.08 L953.75 210.74 L953.88 215.3 L953.85 220.64 L954.74 226.63" class="wd"/>
<path d="M957.56 138.5 L958.02 143.28 L959.2 150.19 L960.03 156.44 L960.39 162.95 L960.11 167.51 L959.34 173.64 L959.17 179.01 L959.21 185.1 L959.17 191.83 L958.92 198.39 L957.91 204.79 L957.42 210.3 L957.31 216.81 L957.72 222.69 L958.3 228.24" class="wd"/>
<path d="M960.09 138.5 L960.63 142.91 L961.17 147.08 L962.16 152.2 L963.13 157.98 L963.53 162.88 L963.19 168.16 L962.36 174.02 L961.75 179.71 L961.15 186.33 L961.29 192.56 L961.25 198.85" class="wd"/>
<path d="M959.84 210.45 L959.37 217.29 L959.55 221.42 L960.18 225.72" class="wd"/>
<path d="M961.87 138.5 L962.68 143.84 L963.22 149.58 L963.89 153.65 L964.57 160.05 L964.55 165.71 L963.96 171.77" class="wd"/>
<path d="M963.05 181.82 L963.03 188.25 L962.76 192.29 L962.84 196.74 L962.66 203.36 L961.96 207.47 L961.64 213.92 L961.45 219.1 L961.96 223.57 L962.75 228.75" class="wd"/>
<path d="M964.07 138.5 L964.08 144.27 L964.87 148.78 L965.82 154.18 L966.26 159.34 L966.48 163.36 L965.9 168.36 L965.71 173.74 L964.75 177.88 L964.29 183.89 L964.3 188.71 L964.38 193.5 L964.59 199.08 L963.79 206.06 L963.69 211.74 L963.41 218.36 L963.69 224.26 L964.24 229.34" class="wd"/>
<path d="M966.31 138.5 L967.01 144.79 L967.91 150.32 L968.87 155.37 L969.32 160.59 L969.49 165.6 L968.6 172.56 L967.43 177.66 L966.67 182.37 L966.09 186.78 L966.31 193.39 L966.53 198.73 L966.31 203.63 L966.14 207.83 L965.93 212.76 L965.74 218.41 L965.96 223.43 L966.49 229.18" class="wd"/>
<path d="M968.59 138.5 L968.83 143.78 L969.06 147.99 L969.93 154.69 L970.4 159.46 L970.73 163.95 L970.29 170.06 L969.45 175.26 L968.81 181.07 L967.87 187.02 L968.2 193.22 L967.97 199.02 L968.44 205.45 L967.88 210.47 L967.83 215.04 L967.8 221.66 L968.25 228.43" class="wd"/>
<path d="M970.86 138.5 L970.81 144.9 L971.83 151.49 L972.37 155.75 L973.24 162.08 L973.19 167.28 L971.84 173.9 L971.15 178.85 L970.17 183.79 L969.87 189.92 L969.51 194.39 L970.03 199.02 L970.23 205.54 L970.17 210.63 L970.18 216.67 L970.18 221.13 L970.17 226.85" class="wd"/>
<path d="M974.85 138.5 L974.8 143.43 L974.99 150.36 L975.61 155.19 L976.25 162.02 L976.56 166.04 L976.15 172.01 L975.16 177.1 L973.88 181.78 L972.65 186.05 L972.21 190.45 L972.55 195.96 L973.18 200.51 L973.31 205.6 L973.87 210.14 L973.54 216.9 L973.76 220.99 L973.99 225.71" class="wd"/>
<path d="M977.18 138.5 L977.27 143.14 L977.18 147.22 L977.43 151.26 L978.08 158 L978.38 163.06 L978.78 168.18 L978.01 173.31 L976.08 179.89 L975.36 183.95 L974.31 188.68 L974.08 193.66 L974.66 198.49 L975.48 203.99 L975.95 210.36 L976.25 217.16 L975.87 224.03 L976.11 228.93" class="wd"/>
<path d="M979.36 138.5 L979.13 144.29 L979.27 150.03 L979.39 154.66 L979.61 159.74 L979.57 166.33 L979.69 172.92 L978.58 177.82" class="wd"/>
<path d="M977.73 186.18 L977.22 190.63 L976.87 194.92 L977.22 200.97 L978.16 205.99 L978.63 212.14 L978.34 219.08 L978.69 223.78 L978.42 229.85" class="wd"/>
<path d="M980.84 138.5 L980.82 145.47 L980.59 152.11 L980.71 157.57 L980.95 162.86 L981.02 168.91 L980.8 175.13 L980.17 179.46 L979.64 184.95 L978.73 190 L978.97 196.9 L979.19 203.1 L979.68 207.63 L979.95 211.84 L980.37 217.36 L980.34 223.03 L980.48 227.06" class="wd"/>
</g>
<rect x="943.75" y="139.5" width="38.25" height="85" rx="4"/>
<path d="M-13.25 0 L-11.5 -8.1 L-5.5 -8.1 L-4.9 -10 L-10.5 -11.6 L-12 -13.7 L-10.5 -15.4 L10.5 -15.4 L12 -13.7 L10.5 -11.6 L4.9 -10 L5.5 -8.1 L11.5 -8.1 L13.25 0" transform="translate(837.8 233) rotate(0)"/>
<path d="M-13.25 0 L-11.5 -8.1 L-5.5 -8.1 L-4.9 -10 L-10.5 -11.6 L-12 -13.7 L-10.5 -15.4 L10.5 -15.4 L12 -13.7 L10.5 -11.6 L4.9 -10 L5.5 -8.1 L11.5 -8.1 L13.25 0" transform="translate(875 233) rotate(0)"/>
<path d="M-13.25 0 L-11.5 -8.1 L-5.5 -8.1 L-4.9 -10 L-10.5 -11.6 L-12 -13.7 L-10.5 -15.4 L10.5 -15.4 L12 -13.7 L10.5 -11.6 L4.9 -10 L5.5 -8.1 L11.5 -8.1 L13.25 0" transform="translate(815 261.4) rotate(-90)"/>
<clipPath id="w6"><rect x="815" y="233" width="83" height="58.25" rx="0"/></clipPath>
<g clip-path="url(#w6)">
<path d="M814 233.18 L819.62 232.5 L824.07 232.32 L830.72 232.68 L837.41 233.86 L842.13 234.64 L849.1 235.1 L855.29 234.88 L861.76 234.48 L866.02 234.59 L870.12 234.84 L875.34 234.74 L881.4 233.93 L887.4 232.76 L893.13 232.07 L899.08 232.29" class="wd"/>
<path d="M814 236.67 L820.23 236.07 L826.37 235.73 L831.95 236.2 L837.98 237.17 L843.86 238.33 L848.53 238.67 L853.33 238.6 L858.75 237.99 L864.31 237.58 L868.98 237.48 L875.76 237.75 L881.33 237.28 L887.77 236.04 L892.29 235.7 L897.67 235.52" class="wd"/>
<path d="M814 238.57 L820.59 238.27 L825.82 238.09 L830.95 238.08 L836.94 239.14 L841.84 240.25" class="wd"/>
<path d="M852.01 240.67 L857.91 240.34 L862.43 239.74 L866.45 239.36 L871.92 239.69 L877.79 239.6 L884.19 238.77 L889.86 237.67 L894.64 237.44 L899.56 237.56" class="wd"/>
<path d="M814 240.26 L820.58 239.9 L825.85 239.95 L831.7 239.88 L835.83 240.41 L840.93 241.42 L845.82 241.96 L851.76 242.3 L856.82 241.65 L862.56 241.3 L867.13 241.08 L873.27 240.82 L879.26 240.75 L883.48 240.63 L888.61 239.85 L894.1 239.46 L900.38 239.13" class="wd"/>
<path d="M814 241.9 L820.98 241.82" class="wd"/>
<path d="M829.59 241.78 L833.61 241.89 L838.22 243.01 L844.99 244.57 L849.98 245.16 L855.36 244.56 L861.91 243.53 L865.95 242.89 L872.5 242.55 L877.86 242.95 L882.46 242.46 L889.05 241.5 L895.29 240.74 L899.71 240.59 L903.86 241.41" class="wd"/>
<path d="M814 243.66 L818.79 244.09 L823.55 244.29 L829.22 243.9 L834.48 244.09 L839.39 245.64 L845.8 247.38 L850.57 247.63 L854.73 247.47 L859.85 246.26 L865.32 245 L870.41 244.54 L875.01 244.64 L880.68 244.3 L885.62 244.11 L890.85 243.19 L895.82 242.32 L902.21 242.7" class="wd"/>
<path d="M814 245.54 L820.18 246.01 L824.79 245.98 L831.37 245.85 L835.78 246.58 L842.22 247.64 L846.26 248.58 L852.48 248.74 L857.14 248.45 L863.38 247.11 L868.99 245.9 L875.32 246.05 L880.87 246.09 L885.47 245.74 L889.62 245.34 L896.13 244.83 L901.45 244.81" class="wd"/>
<path d="M814 248.55 L818.88 248.73 L824.63 248.97 L830.31 248.82 L837.04 249.1 L843.57 249.74 L849.97 250.79 L855.14 250.25 L860.28 249.93" class="wd"/>
<path d="M869.23 248.61 L875.42 248.42 L881.45 248.45 L887.94 248.4 L894.71 248.41 L901.53 248.11" class="wd"/>
<path d="M814 249.78 L818.91 250.58 L825.18 250.76 L830.59 250.98 L836.88 251.15 L842.62 251.43 L848.36 252.05 L852.36 252.3 L856.82 252.1 L861.34 251.41 L866.78 250.4 L871.87 249.72 L878.37 250.11 L884.54 250.2 L890.78 249.91 L895.26 249.76 L899.37 249.44" class="wd"/>
<path d="M814 251.4 L819.06 252 L825.05 252.33 L829.56 252.72 L834.55 252.61 L841.17 252.76 L845.62 253.06 L852.26 253.58 L857.75 253.49 L862.1 252.78 L866.59 252 L872.11 251.26 L876.7 251.22 L881.31 251.31 L886.03 251.9 L891.54 251.86 L895.58 251.68 L901.05 251.49" class="wd"/>
<path d="M814 254.49 L820.52 255.91 L825.8 256.21 L830.12 256.23 L834.49 256.16" class="wd"/>
<path d="M845.46 256.41 L851.92 257.03 L856.14 256.76 L860.43 256.26 L866.75 255.15 L871.66 254.41 L877.94 254.48 L882.49 254.64 L889.28 255.33 L893.38 255.36 L897.83 255.1 L902.33 255.2" class="wd"/>
<path d="M814 256.31 L820.99 257.6 L826.43 258.12 L832.77 258.33 L839.02 257.97 L843.62 258.09 L850.16 258.69 L854.43 258.83 L859.48 258.2 L866.38 257.1 L872.62 255.72 L879.1 255.98 L885.82 256.58 L892.31 257.08 L898.08 256.83" class="wd"/>
<path d="M814 259.67 L819.6 260.76 L823.94 261.61" class="wd"/>
<path d="M836.82 261.46 L841.41 261.31 L846.12 261.34 L852.85 261.77 L858.98 261.53 L865.33 260.77 L871.38 259.65 L877.86 258.86 L882.12 259.27 L888.63 260.01 L894.41 260.77 L900.79 260.35" class="wd"/>
<path d="M814 261.94 L819.37 262.89 L824.01 263.95 L830.55 264.82 L835.42 264.37 L840.24 264.2 L845.56 263.87 L851.98 263.74 L858.03 263.79 L864.5 263.13 L869.32 262.52 L874.4 261.27 L881.07 261.37 L887.75 262.3 L893.25 263.42 L898.77 263.73 L903.34 263.58" class="wd"/>
<path d="M814 263.48 L818.74 264.84 L824.71 266.7 L830.74 267.79 L836.94 267.28 L842.94 266.06 L849.2 265.72 L854.45 266.01 L859.44 265.89 L864.33 265.29 L870.46 263.98" class="wd"/>
<path d="M881.45 262.87 L886.93 263.99 L890.98 265.11 L897.65 265.77 L902.78 265.88" class="wd"/>
<path d="M814 265.8 L819.45 266.3 L826.26 267.97 L830.82 268.83 L836.34 268.67 L840.86 267.87 L847.81 267.17 L852.54 267.2 L856.61 267.19 L861.84 266.83" class="wd"/>
<path d="M874.17 265.3 L879.25 264.88 L884.22 265.28 L889.71 265.98 L895.3 267.41 L899.91 267.69" class="wd"/>
<path d="M814 269.26 L819.76 270.21 L826.09 271.51 L832.17 272.36 L838.85 271.92 L844.71 271 L849.92 270.19 L855 269.89 L861.38 270.06 L865.72 270.01 L871.59 268.85 L876.81 267.84 L883.49 267.84 L888.33 269.08 L894.31 270.78 L899.55 271.2" class="wd"/>
<path d="M814 270.9 L819.89 271.61 L826.2 272.88 L832.68 274.02 L837.75 273.93 L842.54 272.73 L846.75 272.09 L853.01 271.54 L858.25 271.65 L862.58 271.46 L868.52 271.39 L874.42 270.4 L880.74 269.76 L887.57 270.77 L892.59 271.81 L899.01 272.99 L903.57 273.42" class="wd"/>
<path d="M814 273.11 L818.64 273.75 L825.41 275.03 L829.42 276.24 L834.13 276.65 L838.77 276.34 L845.13 274.71 L851.69 273.09 L856.35 273.24 L861.07 273.05 L865.92 273.04 L872.83 272.71 L877.97 271.64 L883.91 271.94 L889.06 273.06 L895.2 274.91 L901.01 275.91" class="wd"/>
<path d="M814 277.3 L820.92 277.6 L826 278.12 L830.22 278.7 L835.2 278.55 L841.08 278.18 L845.91 277.35 L851.25 276.81 L857.67 276.24 L864.15 276.49" class="wd"/>
<path d="M873.84 276.48 L879.55 276.08 L885.93 276.19 L892.45 277.42 L898.06 277.98" class="wd"/>
<path d="M814 279.36 L819.89 279.73 L825.64 280.16 L831.18 281.03 L835.86 281.45 L842.85 280.62 L849.73 278.85 L856.69 277.89 L862.12 278.08 L867.49 278.71 L873.61 278.59 L878.64 278.15 L883.84 278.07 L888.43 278.7 L893.98 279.67 L898.57 280.79 L903.16 281.14" class="wd"/>
<path d="M814 282.31 L820.76 282.1 L826.92 282.38" class="wd"/>
<path d="M838.13 283.68 L844.02 282.41 L849.08 280.92 L854.98 280.09 L859.9 279.44 L864.42 279.99 L871.12 280.81 L876.48 280.4 L880.8 280.18 L887.14 280.46 L894.11 282.1 L900.49 283.45" class="wd"/>
<path d="M814 284.44 L818.63 284.11 L822.69 284.41 L828.82 284.9 L835.76 285.28 L841.96 284.84 L848.4 283.59 L852.8 282.12 L857.44 281.81 L862.58 281.66 L869.07 282.8 L874.46 282.79 L881.13 282.88 L885.34 282.72 L891.21 283.56 L896.67 284.58 L901.28 285.31" class="wd"/>
<path d="M814 287.14 L820.83 286.64 L826.55 286.85 L832.61 287.17 L838.89 287.16 L845.05 286.74 L849.56 285.86 L856.14 285.07 L862.29 284.72 L868.93 285.41 L873.29 285.74 L878.43 285.99 L884.83 286 L888.85 285.91 L895.08 286.34 L901.3 287.41" class="wd"/>
<path d="M814 288.95 L818.15 288.79" class="wd"/>
<path d="M830.95 288.86 L836.87 289.27 L841.66 288.7 L845.71 288.26 L850.02 287.18 L856.15 285.29 L862.58 285.06 L868.11 285.91 L874.47 287.38 L881.22 287.19 L887.78 287.37 L894.24 288.02 L900.1 289.31" class="wd"/>
<path d="M814 290.72 L819.19 290.26 L825.43 289.76 L831.91 290.21 L837.29 290.13 L843.24 289.92 L848.53 288.9 L855.46 287.56 L860.51 286.87 L866.7 287.82 L873.25 288.61 L878.35 289.22 L884.64 289.14 L890.46 289.57 L896.76 289.79 L900.99 290.56" class="wd"/>
</g>
<rect x="815" y="233" width="83" height="58.25"/>
<path d="M1024 118.75 L1008 118.75 L1008 245.75 L944.25 245.75 L944.25 290"/>
<path d="M944.25 290 V285 Q944.25 279.5 950 279.5 H1024"/>
<line x1="944.25" y1="289.8" x2="1000" y2="289.8"/>
<rect x="886" y="302" width="113.25" height="39.5"/>
<rect x="908" y="303.75" width="68.75" height="9.5"/>
<circle cx="909.25" cy="342.9" r="1.4"/>
<circle cx="975" cy="342.9" r="1.4"/>
<path d="M731 231 A63 62 0 0 1 793 292.5"/>
<rect x="728" y="231" width="3.5" height="66"/>
<rect x="728" y="231" width="3.5" height="5.5" class="dk"/>
<rect x="728" y="291.5" width="3.5" height="5.5" class="dk"/>
<circle cx="758" cy="272" r="18.9"/>
<line x1="743" y1="272" x2="773" y2="272"/>
<text x="758" y="268" font-size="9.5" text-anchor="middle" class="sm">0.85</text>
<text x="758" y="283.9" font-size="9.5" text-anchor="middle" class="sm">2.25</text>
<path d="M868 308.75 A65.5 63 0 0 1 806 371.5"/>
<rect x="803.3" y="304.8" width="64.7" height="3.95"/>
<rect x="803.3" y="304.8" width="6.7" height="3.95" class="dk"/>
<rect x="861.5" y="304.8" width="6.5" height="3.95" class="dk"/>
<circle cx="827.5" cy="333.75" r="18.9"/>
<line x1="812.5" y1="333.75" x2="842.5" y2="333.75"/>
<text x="827.5" y="329.75" font-size="9.5" text-anchor="middle" class="sm">0.85</text>
<text x="827.5" y="345.65" font-size="9.5" text-anchor="middle" class="sm">2.25</text>
<rect x="729" y="386.9" width="47.75" height="164.1"/>
<line x1="774.05" y1="386.9" x2="774.05" y2="551"/>
<line x1="774.05" y1="386.9" x2="729" y2="428.5"/>
<line x1="729" y1="428.5" x2="776.75" y2="428.5"/>
<line x1="774.05" y1="428.5" x2="729" y2="469.5"/>
<line x1="729" y1="469.5" x2="776.75" y2="469.5"/>
<line x1="774.05" y1="469.5" x2="729" y2="511.5"/>
<line x1="729" y1="511.5" x2="776.75" y2="511.5"/>
<line x1="774.05" y1="511.5" x2="729" y2="551"/>
<rect x="882.5" y="394" width="120.5" height="155"/>
<line x1="882.5" y1="526" x2="1003" y2="526"/>
<rect x="889.75" y="526" width="49.5" height="19.25"/>
<rect x="946" y="526" width="50" height="19.25"/>
<path d="M882.5 525.5 L905 483.5 L1002.5 526"/>
<rect x="848.5" y="518.25" width="30.25" height="30.75"/>
<rect x="1006.75" y="518.25" width="30.25" height="30.75"/>
<line x1="783" y1="562.75" x2="783" y2="656.5" class="da"/>
<line x1="783" y1="656.5" x2="783" y2="749.75"/>
<line x1="805" y1="562.75" x2="805" y2="656.5" class="da"/>
<line x1="805" y1="656.5" x2="805" y2="749.75"/>
<line x1="826.75" y1="562.75" x2="826.75" y2="656.5" class="da"/>
<line x1="826.75" y1="656.5" x2="826.75" y2="749.75"/>
<line x1="848.5" y1="562.75" x2="848.5" y2="656.5" class="da"/>
<line x1="848.5" y1="656.5" x2="848.5" y2="749.75"/>
<line x1="870" y1="562.75" x2="870" y2="656.5" class="da"/>
<line x1="870" y1="656.5" x2="870" y2="749.75"/>
<line x1="783" y1="656.5" x2="903" y2="656.5"/>
<line x1="884.25" y1="656.5" x2="899.25" y2="749.75"/>
<line x1="891.75" y1="656.5" x2="935" y2="749.75"/>
<line x1="895.5" y1="656.5" x2="975" y2="749.75"/>
<line x1="898" y1="656.5" x2="1006.75" y2="724.75"/>
<line x1="901.75" y1="656.5" x2="1006.75" y2="678.5"/>
<line x1="884.25" y1="656.5" x2="898.5" y2="562.75" class="da"/>
<line x1="891.75" y1="656.5" x2="934" y2="562.75" class="da"/>
<line x1="895.5" y1="656.5" x2="977" y2="562.75" class="da"/>
<line x1="898" y1="656.5" x2="1006.75" y2="588.5" class="da"/>
<line x1="901.75" y1="656.5" x2="1006.75" y2="634" class="da"/>
<path d="M776 703.5 H934.25 A19.25 19.25 0 0 0 953.5 684.25 V628.5 A19.25 19.25 0 0 0 934.25 609.25 H778"/>
<path d="M783 603.5 L776.5 609.25 L783 615.5"/>
<circle cx="783" cy="703.5" r="2.6"/>
<circle cx="783" cy="703.5" r="1.2" class="dk"/>
<text x="775.5" y="602.7" font-size="11" text-anchor="middle" class="sm">20</text>
<text x="798.5" y="602.7" font-size="11" text-anchor="middle" class="sm">19</text>
<text x="820" y="602.7" font-size="11" text-anchor="middle" class="sm">18</text>
<text x="841.25" y="602.7" font-size="11" text-anchor="middle" class="sm">17</text>
<text x="863" y="602.7" font-size="11" text-anchor="middle" class="sm">16</text>
<text x="885.5" y="602.7" font-size="11" text-anchor="middle" class="sm">15</text>
<text x="908.75" y="602.7" font-size="11" text-anchor="middle" class="sm">14</text>
<text x="933.75" y="602.7" font-size="11" text-anchor="middle" class="sm">13</text>
<text x="955.5" y="615.95" font-size="11" text-anchor="middle" class="sm">12</text>
<text x="960.5" y="640.95" font-size="11" text-anchor="middle" class="sm">11</text>
<text x="960.5" y="662.95" font-size="11" text-anchor="middle" class="sm">10</text>
<text x="958.5" y="687.7" font-size="11" text-anchor="middle" class="sm">9</text>
<text x="939.25" y="699.2" font-size="11" text-anchor="middle" class="sm">8</text>
<text x="917.25" y="699.2" font-size="11" text-anchor="middle" class="sm">7</text>
<text x="895.5" y="699.2" font-size="11" text-anchor="middle" class="sm">6</text>
<text x="874.25" y="699.2" font-size="11" text-anchor="middle" class="sm">5</text>
<text x="852.5" y="699.2" font-size="11" text-anchor="middle" class="sm">4</text>
<text x="830.5" y="699.2" font-size="11" text-anchor="middle" class="sm">3</text>
<text x="809.25" y="699.2" font-size="11" text-anchor="middle" class="sm">2</text>
<text x="787.5" y="699.2" font-size="11" text-anchor="middle" class="sm">1</text>
<line x1="56" y1="107" x2="73" y2="107"/>
<line x1="113.5" y1="107" x2="258.5" y2="107"/>
<line x1="297" y1="107" x2="489.5" y2="107"/>
<line x1="530.75" y1="107" x2="642" y2="107"/>
<line x1="682" y1="107" x2="868" y2="107"/>
<line x1="908" y1="107" x2="1021.3" y2="107"/>
<text x="93.75" y="112.5" font-size="16.4" text-anchor="middle">0.90</text>
<text x="135" y="112.5" font-size="16.4" text-anchor="middle">0.20</text>
<text x="276.6" y="112.5" font-size="16.4" text-anchor="middle">3.58</text>
<text x="415.25" y="112.5" font-size="16.4" text-anchor="middle">0.10</text>
<text x="509" y="112.5" font-size="16.4" text-anchor="middle">2.40</text>
<text x="602.7" y="112.5" font-size="16.4" text-anchor="middle">0.10</text>
<text x="662" y="112.5" font-size="16.4" text-anchor="middle">1.47</text>
<text x="720.75" y="112.5" font-size="16.4" text-anchor="middle">0.10</text>
<text x="888.6" y="112.5" font-size="16.4" text-anchor="middle">4.35</text>
<line x1="56.8" y1="109.7" x2="62.2" y2="104.3" class="tk"/>
<line x1="124.8" y1="109.7" x2="130.2" y2="104.3" class="tk"/>
<line x1="139.55" y1="109.7" x2="144.95" y2="104.3" class="tk"/>
<line x1="408.55" y1="109.7" x2="413.95" y2="104.3" class="tk"/>
<line x1="416.05" y1="109.7" x2="421.45" y2="104.3" class="tk"/>
<line x1="596.8" y1="109.7" x2="602.2" y2="104.3" class="tk"/>
<line x1="603.8" y1="109.7" x2="609.2" y2="104.3" class="tk"/>
<line x1="714.8" y1="109.7" x2="720.2" y2="104.3" class="tk"/>
<line x1="721.8" y1="109.7" x2="727.2" y2="104.3" class="tk"/>
<line x1="1018.6" y1="109.7" x2="1024" y2="104.3" class="tk"/>
<line x1="142.25" y1="446" x2="350" y2="446"/>
<line x1="392" y1="446" x2="640" y2="446"/>
<line x1="682" y1="446" x2="868" y2="446"/>
<line x1="912" y1="446" x2="1021.3" y2="446"/>
<text x="371" y="451.5" font-size="16.4" text-anchor="middle">6.08</text>
<text x="602.7" y="451.5" font-size="16.4" text-anchor="middle">0.10</text>
<text x="662" y="451.5" font-size="16.4" text-anchor="middle">1.47</text>
<text x="722.6" y="451.5" font-size="16.4" text-anchor="middle">0.15</text>
<text x="890" y="451.5" font-size="16.4" text-anchor="middle">4.30</text>
<line x1="139.55" y1="448.7" x2="144.95" y2="443.3" class="tk"/>
<line x1="596.8" y1="448.7" x2="602.2" y2="443.3" class="tk"/>
<line x1="603.8" y1="448.7" x2="609.2" y2="443.3" class="tk"/>
<line x1="714.8" y1="448.7" x2="720.2" y2="443.3" class="tk"/>
<line x1="726.3" y1="448.7" x2="731.7" y2="443.3" class="tk"/>
<line x1="1018.6" y1="448.7" x2="1024" y2="443.3" class="tk"/>
<line x1="174" y1="62" x2="174" y2="152"/>
<line x1="174" y1="193" x2="174" y2="399"/>
<line x1="174" y1="443" x2="174" y2="571"/>
<text x="179.5" y="58.75" font-size="16.4" text-anchor="middle" transform="rotate(-90 179.5 58.75)">0.20</text>
<text x="179.5" y="173" font-size="16.4" text-anchor="middle" transform="rotate(-90 179.5 173)">2.77</text>
<text x="179.5" y="283" font-size="16.4" text-anchor="middle" transform="rotate(-90 179.5 283)">0.10</text>
<text x="179.5" y="420.5" font-size="16.4" text-anchor="middle" transform="rotate(-90 179.5 420.5)">3.42</text>
<text x="179.5" y="558" font-size="16.4" text-anchor="middle" transform="rotate(-90 179.5 558)">0.12</text>
<line x1="171.3" y1="53.7" x2="176.7" y2="48.3" class="tk"/>
<line x1="171.3" y1="69.2" x2="176.7" y2="63.8" class="tk"/>
<line x1="171.3" y1="283.45" x2="176.7" y2="278.05" class="tk"/>
<line x1="171.3" y1="291.7" x2="176.7" y2="286.3" class="tk"/>
<line x1="171.3" y1="556.2" x2="176.7" y2="550.8" class="tk"/>
<line x1="171.3" y1="565.45" x2="176.7" y2="560.05" class="tk"/>
<line x1="538.5" y1="67" x2="538.5" y2="108"/>
<line x1="538.5" y1="141" x2="538.5" y2="350"/>
<line x1="538.5" y1="392" x2="538.5" y2="557"/>
<text x="544" y="124.5" font-size="16.4" text-anchor="middle" transform="rotate(-90 544 124.5)">1.50</text>
<text x="544" y="186" font-size="16.4" text-anchor="middle" transform="rotate(-90 544 186)">0.10</text>
<text x="544" y="372" font-size="16.4" text-anchor="middle" transform="rotate(-90 544 372)">4.69</text>
<line x1="535.8" y1="69.7" x2="541.2" y2="64.3" class="tk"/>
<line x1="535.8" y1="185.4" x2="541.2" y2="180" class="tk"/>
<line x1="535.8" y1="193.2" x2="541.2" y2="187.8" class="tk"/>
<line x1="535.8" y1="556.2" x2="541.2" y2="550.8" class="tk"/>
<line x1="691" y1="51" x2="691" y2="72"/>
<line x1="691" y1="107" x2="691" y2="193"/>
<line x1="691" y1="234.5" x2="691" y2="308"/>
<line x1="691" y1="321" x2="691" y2="322"/>
<line x1="691" y1="357" x2="691" y2="392"/>
<line x1="692" y1="392" x2="692" y2="442.75"/>
<line x1="692" y1="484" x2="692" y2="537"/>
<line x1="692" y1="560" x2="692" y2="566"/>
<text x="696.5" y="88.75" font-size="16.4" text-anchor="middle" transform="rotate(-90 696.5 88.75)">0.97</text>
<text x="696.5" y="130.6" font-size="16.4" text-anchor="middle" transform="rotate(-90 696.5 130.6)">0.10</text>
<text x="696.5" y="213" font-size="16.4" text-anchor="middle" transform="rotate(-90 696.5 213)">2.05</text>
<text x="696.5" y="295" font-size="16.4" text-anchor="middle" transform="rotate(-90 696.5 295)">0.12</text>
<text x="696.5" y="339.5" font-size="16.4" text-anchor="middle" transform="rotate(-90 696.5 339.5)">0.98</text>
<text x="696.5" y="376" font-size="16.4" text-anchor="middle" transform="rotate(-90 696.5 376)">0.12</text>
<text x="697.5" y="463.5" font-size="16.4" text-anchor="middle" transform="rotate(-90 697.5 463.5)">1.98</text>
<text x="697.5" y="550" font-size="16.4" text-anchor="middle" transform="rotate(-90 697.5 550)">0.29</text>
<line x1="688.3" y1="53.7" x2="693.7" y2="48.3" class="tk"/>
<line x1="688.3" y1="128.5" x2="693.7" y2="123.1" class="tk"/>
<line x1="688.3" y1="136.45" x2="693.7" y2="131.05" class="tk"/>
<line x1="688.3" y1="295.2" x2="693.7" y2="289.8" class="tk"/>
<line x1="688.3" y1="304.7" x2="693.7" y2="299.3" class="tk"/>
<line x1="688.3" y1="380.2" x2="693.7" y2="374.8" class="tk"/>
<line x1="689.3" y1="389.6" x2="694.7" y2="384.2" class="tk"/>
<line x1="689.3" y1="542.7" x2="694.7" y2="537.3" class="tk"/>
<line x1="689.3" y1="565.45" x2="694.7" y2="560.05" class="tk"/>
<line x1="1021.5" y1="66" x2="1021.5" y2="160"/>
<line x1="1021.5" y1="200" x2="1021.5" y2="405"/>
<line x1="1021.5" y1="448" x2="1021.5" y2="566"/>
<text x="1027" y="180" font-size="16.4" text-anchor="middle" transform="rotate(-90 1027 180)">2.92</text>
<text x="1027" y="297" font-size="16.4" text-anchor="middle" transform="rotate(-90 1027 297)">0.10</text>
<text x="1027" y="426.5" font-size="16.4" text-anchor="middle" transform="rotate(-90 1027 426.5)">3.22</text>
<text x="1027" y="556" font-size="16.4" text-anchor="middle" transform="rotate(-90 1027 556)">0.15</text>
<line x1="1018.8" y1="68.95" x2="1024.2" y2="63.55" class="tk"/>
<line x1="1018.8" y1="294.7" x2="1024.2" y2="289.3" class="tk"/>
<line x1="1018.8" y1="304.7" x2="1024.2" y2="299.3" class="tk"/>
<line x1="1018.8" y1="389.7" x2="1024.2" y2="384.3" class="tk"/>
<line x1="1018.8" y1="553.7" x2="1024.2" y2="548.3" class="tk"/>
<line x1="1018.8" y1="565.45" x2="1024.2" y2="560.05" class="tk"/>
<line x1="12.5" y1="47" x2="12.5" y2="286"/>
<line x1="12.5" y1="328" x2="12.5" y2="566.5"/>
<text x="18" y="307" font-size="16.4" text-anchor="middle" transform="rotate(-90 18 307)">6.61</text>
<line x1="9.8" y1="53.7" x2="15.2" y2="48.3" class="tk"/>
<line x1="9.8" y1="565.45" x2="15.2" y2="560.05" class="tk"/>
<line x1="39" y1="47" x2="39" y2="70"/>
<line x1="39" y1="108" x2="39" y2="158"/>
<line x1="39" y1="200" x2="39" y2="286"/>
<line x1="39" y1="328" x2="39" y2="409"/>
<line x1="39" y1="452" x2="39" y2="500"/>
<line x1="39" y1="541" x2="39" y2="566.5"/>
<text x="44.5" y="88.75" font-size="16.4" text-anchor="middle" transform="rotate(-90 44.5 88.75)">0.98</text>
<text x="44.5" y="179" font-size="16.4" text-anchor="middle" transform="rotate(-90 44.5 179)">1.35</text>
<text x="44.5" y="306" font-size="16.4" text-anchor="middle" transform="rotate(-90 44.5 306)">1.94</text>
<text x="44.5" y="430" font-size="16.4" text-anchor="middle" transform="rotate(-90 44.5 430)">1.25</text>
<text x="44.5" y="520" font-size="16.4" text-anchor="middle" transform="rotate(-90 44.5 520)">1.09</text>
<line x1="36.3" y1="53.7" x2="41.7" y2="48.3" class="tk"/>
<line x1="36.3" y1="128.7" x2="41.7" y2="123.3" class="tk"/>
<line x1="36.3" y1="234.2" x2="41.7" y2="228.8" class="tk"/>
<line x1="36.3" y1="382.7" x2="41.7" y2="377.3" class="tk"/>
<line x1="36.3" y1="480.7" x2="41.7" y2="475.3" class="tk"/>
<line x1="36.3" y1="565.45" x2="41.7" y2="560.05" class="tk"/>
<rect x="88.2" y="147.5" width="30.55" height="63.3"/>
<text x="99.2" y="194" font-size="9.5" text-anchor="middle" transform="rotate(-90 99.2 194)" class="sm">1.35</text>
<text x="115.3" y="194" font-size="9.5" text-anchor="middle" transform="rotate(-90 115.3 194)" class="sm">2.35</text>
<line x1="103.3" y1="182.2" x2="103.3" y2="206.1"/>
<text x="107" y="166" font-size="9.5" text-anchor="middle" transform="rotate(-90 107 166)" class="sm">0.80</text>
<rect x="88.2" y="399" width="30.55" height="62.5"/>
<text x="99.2" y="445.5" font-size="9.5" text-anchor="middle" transform="rotate(-90 99.2 445.5)" class="sm">1.25</text>
<text x="115.3" y="445.5" font-size="9.5" text-anchor="middle" transform="rotate(-90 115.3 445.5)" class="sm">2.35</text>
<line x1="103.3" y1="433.7" x2="103.3" y2="457.6"/>
<text x="107" y="417.5" font-size="9.5" text-anchor="middle" transform="rotate(-90 107 417.5)" class="sm">0.00</text>
<rect x="936.75" y="10.5" width="60" height="30.5"/>
<text x="951.75" y="22.5" font-size="9.8" text-anchor="middle" class="sm">1.40</text>
<text x="951.75" y="38" font-size="9.8" text-anchor="middle" class="sm">2.35</text>
<line x1="940.5" y1="25.75" x2="962.5" y2="25.75"/>
<text x="979" y="30" font-size="9.8" text-anchor="middle" class="sm">0.90</text>
<text x="368" y="0.3" font-size="16.4" text-anchor="middle">3.58</text>
<text x="660" y="0.3" font-size="16.4" text-anchor="middle">0.97</text>
<text x="815" y="0.3" font-size="16.4" text-anchor="middle">2.02</text>
<text x="966" y="0.3" font-size="16.4" text-anchor="middle">0.90</text>
<text x="310.5" y="480" font-size="20" textLength="166.75" lengthAdjust="spacingAndGlyphs" xml:space="preserve">ΔΙΑΜΕΡΙΣΜΑ  Γ2β</text>
<line x1="310.5" y1="484.75" x2="477.25" y2="484.75" style="stroke-width:1.5"/>
<text x="813.4" y="376.8" font-size="20" textLength="165.85" lengthAdjust="spacingAndGlyphs" xml:space="preserve">ΔΙΑΜΕΡΙΣΜΑ  Γ2α</text>
<line x1="813.4" y1="381.2" x2="979.25" y2="381.2" style="stroke-width:1.5"/>
<text x="595.7" y="506.8" font-size="20" textLength="119.6" lengthAdjust="spacingAndGlyphs" xml:space="preserve">ΔΙΑΜ/ΜΑ  Γ2</text>
<line x1="595.7" y1="511.6" x2="715.3" y2="511.6" style="stroke-width:1.5"/>
<text x="440.8" y="622.6" font-size="16.5" textLength="98.5" lengthAdjust="spacingAndGlyphs" xml:space="preserve">ΔΙΑΜ/ΜΑ  Γ1</text>
<line x1="440.8" y1="626.3" x2="539.3" y2="626.3" style="stroke-width:1.5"/>
<text x="640.75" y="676.75" font-size="14.5" textLength="120.5" lengthAdjust="spacingAndGlyphs">ΚΛΙΜΑΚΟΣΤΑΣΙΟ</text>
<text x="99.3" y="304.5" font-size="16" text-anchor="middle" transform="rotate(-90 99.3 304.5)" textLength="65.7" lengthAdjust="spacingAndGlyphs">ΕΞΩΣΤΗΣ</text>
</svg>
</body></html>
